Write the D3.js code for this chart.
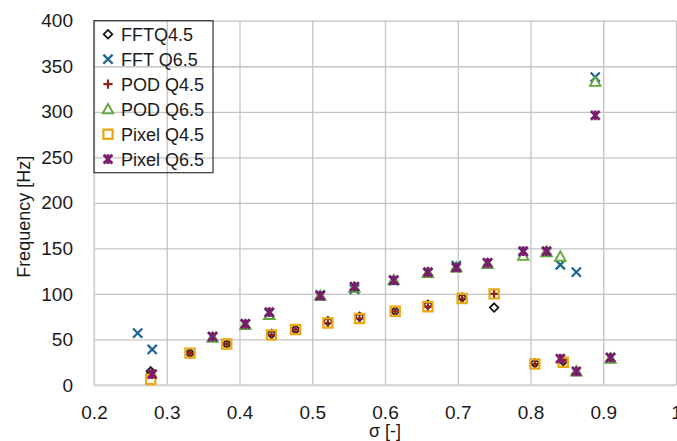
<!DOCTYPE html>
<html>
<head>
<meta charset="utf-8">
<script src="https://cdn.jsdelivr.net/npm/d3@7/dist/d3.min.js"></script>
<style>
  html, body { margin: 0; padding: 0; background: #fff; }
  svg { display: block; }
  text { font-family: "Liberation Sans", Arial, sans-serif; fill: #1a1a1a; }
</style>
</head>
<body>
<svg id="chart" width="677" height="441"></svg>
<script>
// Cavitation number for each operating point, per flow rate
const sigmaQ45 = [0.278, 0.332, 0.3825, 0.444, 0.477, 0.5215, 0.565, 0.614, 0.659, 0.706, 0.75, 0.806, 0.845];
const sigmaQ65 = [0.26, 0.28, 0.363, 0.408, 0.441, 0.511, 0.558, 0.612, 0.659, 0.698, 0.741, 0.79, 0.822, 0.841, 0.863, 0.889, 0.91];

// Dominant frequency [Hz] found by each method (null = not detected)
const fftQ45   = [15, 35, 45, 56, 61, 70, 75, 81, 88, 96, 85, 24, 26];
const podQ45   = [12, 35, 45, 55, 61, 68, 73, 81, 86, 95, 100, 23, 27];
const pixelQ45 = [6, 35, 45, 55, 61, 68, 73, 81, 86, 95, 100, 23, 25];
const fftQ65   = [57, 39, 53, 67, 79, 99, 105, 115, 123, 131, 134, 146, 146, 132, 124, 338, 30];
const podQ65   = [null, null, 52, 66, 77, 98, 107, 115, 123, 129, 133, 142, 146, 141, 15, 333, 29];
const pixelQ65 = [null, 12, 53, 67, 80, 98, 108, 115, 124, 129, 134, 147, 147, 29, 15, 296, 30];

const xTicks = [0.2, 0.3, 0.4, 0.5, 0.6, 0.7, 0.8, 0.9, 1];
const xTickLabels = ["0.2", "0.3", "0.4", "0.5", "0.6", "0.7", "0.8", "0.9", "1"];
const yTicks = [0, 50, 100, 150, 200, 250, 300, 350, 400];

const seriesNames = ["FFTQ4.5", "FFT Q6.5", "POD Q4.5", "POD Q6.5", "Pixel Q4.5", "Pixel Q6.5"];

const svg = d3.select("#chart");
const plot = { left: 94, right: 676, top: 20.7, bottom: 385 };

const x = d3.scaleLinear().domain([0.2, 1]).range([plot.left, plot.right]);
const y = d3.scaleLinear().domain([0, 400]).range([plot.bottom, plot.top]);

// Gridlines
const gridColor = "#c4c4c4";
svg.append("g")
  .attr("transform", `translate(0,${plot.bottom})`)
  .call(d3.axisBottom(x).tickValues(xTicks).tickSize(-(plot.bottom - plot.top)).tickFormat(""))
  .call(g => g.select(".domain").remove())
  .call(g => g.selectAll("line").attr("stroke", gridColor).attr("stroke-width", 1.3));
svg.append("g")
  .attr("transform", `translate(${plot.left},0)`)
  .call(d3.axisLeft(y).tickValues(yTicks).tickSize(-(plot.right - plot.left)).tickFormat(""))
  .call(g => g.select(".domain").remove())
  .call(g => g.selectAll("line").attr("stroke", gridColor).attr("stroke-width", 1.3));

// Axis lines
svg.append("line").attr("x1", plot.left).attr("x2", plot.right)
  .attr("y1", plot.bottom).attr("y2", plot.bottom)
  .attr("stroke", "#d6d6d6").attr("stroke-width", 1.5);
svg.append("line").attr("x1", plot.left).attr("x2", plot.left)
  .attr("y1", plot.top).attr("y2", plot.bottom)
  .attr("stroke", "#d6d6d6").attr("stroke-width", 1.5);

// Tick labels
svg.append("g")
  .attr("transform", `translate(0,${plot.bottom})`)
  .call(d3.axisBottom(x).tickValues(xTicks).tickSize(0).tickPadding(0)
    .tickFormat((d, i) => xTickLabels[i]))
  .call(g => g.select(".domain").remove())
  .call(g => g.selectAll("text")
    .attr("dy", null).attr("y", 34)
    .style("font-size", "19px").style("font-family", "'Liberation Sans', Arial, sans-serif")
    .attr("fill", "#1a1a1a"));
svg.append("g")
  .attr("transform", `translate(${plot.left},0)`)
  .call(d3.axisLeft(y).tickValues(yTicks).tickSize(0).tickPadding(21))
  .call(g => g.select(".domain").remove())
  .call(g => g.selectAll("text")
    .style("font-size", "19px").style("font-family", "'Liberation Sans', Arial, sans-serif")
    .attr("fill", "#1a1a1a"));

// Axis titles
svg.append("text")
  .attr("x", (plot.left + plot.right) / 2).attr("y", 437)
  .attr("text-anchor", "middle").style("font-size", "18px")
  .text("σ [-]");
svg.append("text")
  .attr("transform", `translate(30,${(plot.top + plot.bottom) / 2 + 14}) rotate(-90)`)
  .attr("text-anchor", "middle").style("font-size", "18px")
  .text("Frequency [Hz]");

// Marker shapes centred on the origin
const markers = {
  diamond: s => `M0,${-s}L${s},0L0,${s}L${-s},0Z`,
  cross: s => `M${-s},${-s}L${s},${s}M${-s},${s}L${s},${-s}`,
  plus: s => `M${-s},0L${s},0M0,${-s}L0,${s}`,
  triangle: s => `M0,${-s}L${s * 1.0},${s * 0.8}L${-s * 1.0},${s * 0.8}Z`,
  square: s => `M${-s},${-s}L${s},${-s}L${s},${s}L${-s},${s}Z`,
  star: s => `M${-s},${-s}L${s},${s}M${-s},${s}L${s},${-s}M0,${-s * 1.1}L0,${s * 1.1}`
};

const series = [
  { name: seriesNames[0], sigma: sigmaQ45, freq: fftQ45,   shape: "diamond",  size: 4.3, color: "#111111", width: 1.7 },
  { name: seriesNames[1], sigma: sigmaQ65, freq: fftQ65,   shape: "cross",    size: 4.6, color: "#1d6394", width: 2.2 },
  { name: seriesNames[2], sigma: sigmaQ45, freq: podQ45,   shape: "plus",     size: 4.6, color: "#8a2222", width: 2.2 },
  { name: seriesNames[3], sigma: sigmaQ65, freq: podQ65,   shape: "triangle", size: 5.2, color: "#62a83e", width: 1.9 },
  { name: seriesNames[4], sigma: sigmaQ45, freq: pixelQ45, shape: "square",   size: 4.6, color: "#eaa613", width: 2.2 },
  { name: seriesNames[5], sigma: sigmaQ65, freq: pixelQ65, shape: "star",     size: 4.4, color: "#7a1c6c", width: 2.8 }
];

// Data points
series.forEach(s => {
  const pts = s.sigma.map((v, i) => ({ sx: v, f: s.freq[i] })).filter(d => d.f !== null);
  svg.append("g").selectAll("path").data(pts).join("path")
    .attr("transform", d => `translate(${x(d.sx)},${y(d.f)})`)
    .attr("d", markers[s.shape](s.size))
    .attr("fill", "none")
    .attr("stroke", s.color)
    .attr("stroke-width", s.width)
    .attr("stroke-linejoin", "miter");
});

// Legend
const legend = svg.append("g");
legend.append("rect")
  .attr("x", plot.left).attr("y", plot.top)
  .attr("width", 119).attr("height", 152)
  .attr("fill", "none").attr("stroke", "#333").attr("stroke-width", 1.2);
series.forEach((s, i) => {
  const cy = plot.top + 13.5 + i * 25;
  legend.append("path")
    .attr("transform", `translate(108,${cy})`)
    .attr("d", markers[s.shape](s.size))
    .attr("fill", "none").attr("stroke", s.color).attr("stroke-width", s.width);
  legend.append("text")
    .attr("x", 121).attr("y", cy).attr("dy", "0.35em")
    .style("font-size", "18px")
    .text(s.name);
});
</script>
</body>
</html>
